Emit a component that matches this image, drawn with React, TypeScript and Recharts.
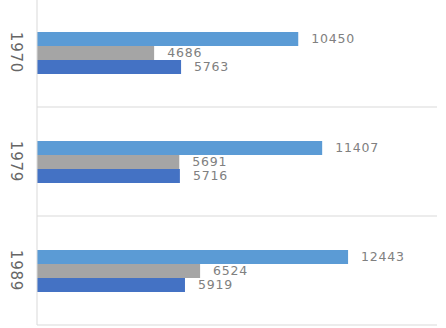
import { BarChart, Bar, XAxis, YAxis, CartesianGrid, LabelList } from 'recharts';

const YEARS = ['1970', '1979', '1989'];
const SERIES_TOP = [10450, 11407, 12443];
const SERIES_MID = [4686, 5691, 6524];
const SERIES_LOW = [5763, 5716, 5919];
const X_MAX = 16000;

const data = YEARS.map((year, i) => ({
  year,
  top: SERIES_TOP[i],
  mid: SERIES_MID[i],
  low: SERIES_LOW[i],
}));

const FONT = '"DejaVu Sans", sans-serif';
const labelStyle = { fill: '#808080', fontSize: 12.5, letterSpacing: 0.8, fontFamily: FONT };

function YearTick({ x, y, payload }: any) {
  const cx = x - 21.5;
  return (
    <text
      x={cx}
      y={y}
      transform={`rotate(90, ${cx}, ${y})`}
      textAnchor="middle"
      dominantBaseline="central"
      fill="#666"
      fontSize={15}
      letterSpacing={0.8}
      fontFamily={FONT}
    >
      {payload.value}
    </text>
  );
}

export default function App() {
  return (
    <div style={{ position: 'absolute', left: 0, top: 0, background: '#fff' }}>
      <BarChart
        width={446}
        height={328}
        data={data}
        layout="vertical"
        margin={{ top: -2, right: 9, bottom: 3, left: 0 }}
        barGap={0}
        barSize={14}
      >
        <CartesianGrid
          vertical={false}
          stroke="#d9d9d9"
          horizontalCoordinatesGenerator={({ offset }: any) =>
            [0, 1, 2, 3].map((i) => offset.top + (i * offset.height) / YEARS.length)
          }
        />
        <XAxis type="number" domain={[0, X_MAX]} hide />
        <YAxis
          type="category"
          dataKey="year"
          width={37}
          axisLine={{ stroke: '#d9d9d9' }}
          tickLine={false}
          tickSize={0}
          tickMargin={0}
          tick={<YearTick />}
        />
        <Bar dataKey="top" fill="#5b9bd5" isAnimationActive={false}>
          <LabelList dataKey="top" position="right" offset={13} style={labelStyle} />
        </Bar>
        <Bar dataKey="mid" fill="#a5a5a5" isAnimationActive={false}>
          <LabelList dataKey="mid" position="right" offset={13} style={labelStyle} />
        </Bar>
        <Bar dataKey="low" fill="#4472c4" isAnimationActive={false}>
          <LabelList dataKey="low" position="right" offset={13} style={labelStyle} />
        </Bar>
      </BarChart>
    </div>
  );
}
